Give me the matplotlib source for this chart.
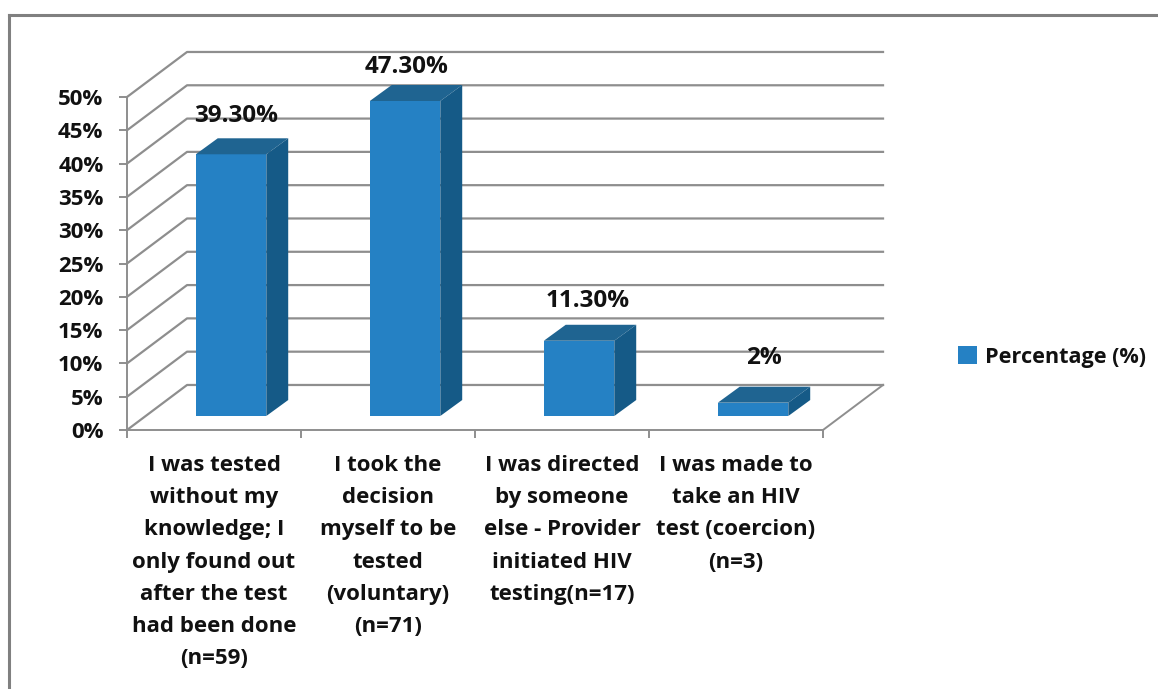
import matplotlib
matplotlib.use("Agg")
import matplotlib.pyplot as plt
from matplotlib.lines import Line2D
from matplotlib.patches import Patch, Polygon

categories = [
    "I was tested\nwithout my\nknowledge; I\nonly found out\nafter the test\nhad been done\n(n=59)",
    "I took the\ndecision\nmyself to be\ntested\n(voluntary)\n(n=71)",
    "I was directed\nby someone\nelse - Provider\ninitiated HIV\ntesting(n=17)",
    "I was made to\ntake an HIV\ntest (coercion)\n(n=3)",
]
percentages = [39.3, 47.3, 11.3, 2.0]
value_labels = ["39.30%", "47.30%", "11.30%", "2%"]
y_ticks = [0, 5, 10, 15, 20, 25, 30, 35, 40, 45, 50]

# 3d look, in data units (1 category = 174px, 1% = 6.66px)
WALL_DX, WALL_DY = 0.345, 6.76
BAR_X, BAR_Y = 0.098, 2.1
BAR_DX, BAR_DY = 0.126, 2.4
BAR_W = 0.405
LABEL_DX = [0.13, 0.105, 0.15, 0.16]
LABEL_DY = [7.9, 7.2, 8.1, 8.8]

FRONT = "#2581c4"
TOP = "#1f6491"
SIDE = "#155a87"
GRID = "#8e8e8e"
TEXT = "#111111"
FONT_SIZE = 16
LABEL_SIZE = 17.5

plt.rcParams["font.family"] = ["Open Sans", "DejaVu Sans"]
plt.rcParams["font.weight"] = "bold"

fig = plt.figure(figsize=(11.58, 6.89), dpi=100)
ax = fig.add_axes([127 / 1158, 259 / 689, 696 / 1158, 333 / 689])
ax.set_xlim(0, 4)
ax.set_ylim(0, 50)
ax.patch.set_visible(False)

for spine in ("top", "right"):
    ax.spines[spine].set_visible(False)
for spine in ("left", "bottom"):
    ax.spines[spine].set_color(GRID)
    ax.spines[spine].set_linewidth(1.4)

ax.set_yticks(y_ticks)
ax.set_yticklabels([f"{t}%" for t in y_ticks], fontsize=FONT_SIZE, color=TEXT)
ax.tick_params(axis="y", length=6, width=1.4, color=GRID, pad=11)

ax.set_xticks(range(5))
ax.tick_params(axis="x", which="major", length=6, width=1.4, color=GRID, labelbottom=False)
ax.set_xticks([0.5, 1.5, 2.5, 3.5], minor=True)
ax.set_xticklabels(categories, minor=True, fontsize=FONT_SIZE, color=TEXT, linespacing=1.7, va="top")
ax.tick_params(axis="x", which="minor", length=0, pad=18)

# back wall gridlines with the diagonals on the left side wall
for t in y_ticks:
    ax.plot([0, WALL_DX, 4 + WALL_DX], [t, t + WALL_DY, t + WALL_DY],
            color=GRID, lw=1.6, clip_on=False, zorder=1)
ax.plot([4, 4 + WALL_DX], [0, WALL_DY], color=GRID, lw=1.4, clip_on=False, zorder=1)

for i, value in enumerate(percentages):
    x0 = i + (1 - BAR_W) / 2 + BAR_X
    x1 = x0 + BAR_W
    y0 = BAR_Y
    y1 = value + BAR_Y
    ax.add_patch(Polygon([(x0, y0), (x1, y0), (x1, y1), (x0, y1)], color=FRONT, lw=0, clip_on=False, zorder=3))
    ax.add_patch(Polygon([(x0, y1), (x1, y1), (x1 + BAR_DX, y1 + BAR_DY), (x0 + BAR_DX, y1 + BAR_DY)],
                         color=TOP, lw=0, clip_on=False, zorder=3))
    ax.add_patch(Polygon([(x1, y0), (x1 + BAR_DX, y0 + BAR_DY), (x1 + BAR_DX, y1 + BAR_DY), (x1, y1)],
                         color=SIDE, lw=0, clip_on=False, zorder=3))
    ax.text(i + 0.5 + LABEL_DX[i], value + LABEL_DY[i], value_labels[i], ha="center", va="center",
            fontsize=LABEL_SIZE, color=TEXT, zorder=5)

handle = Patch(facecolor=FRONT, edgecolor="none")
fig.legend([handle], ["Percentage (%)"], loc="center left", bbox_to_anchor=(956 / 1158, 1 - 357 / 689),
           frameon=False, fontsize=15.6, labelcolor=TEXT, handlelength=0.85, handleheight=0.85,
           handletextpad=0.4, borderpad=0.1, borderaxespad=0)

# grey outer frame, cut off by the image edges
frame = dict(color="#808080", lw=2.2, transform=fig.transFigure)
fig.add_artist(Line2D([9 / 1158, 9 / 1158], [0, 1 - 15 / 689], **frame))
fig.add_artist(Line2D([9 / 1158, 1], [1 - 15 / 689, 1 - 15 / 689], **frame))

fig.savefig("out.png", dpi=100)
